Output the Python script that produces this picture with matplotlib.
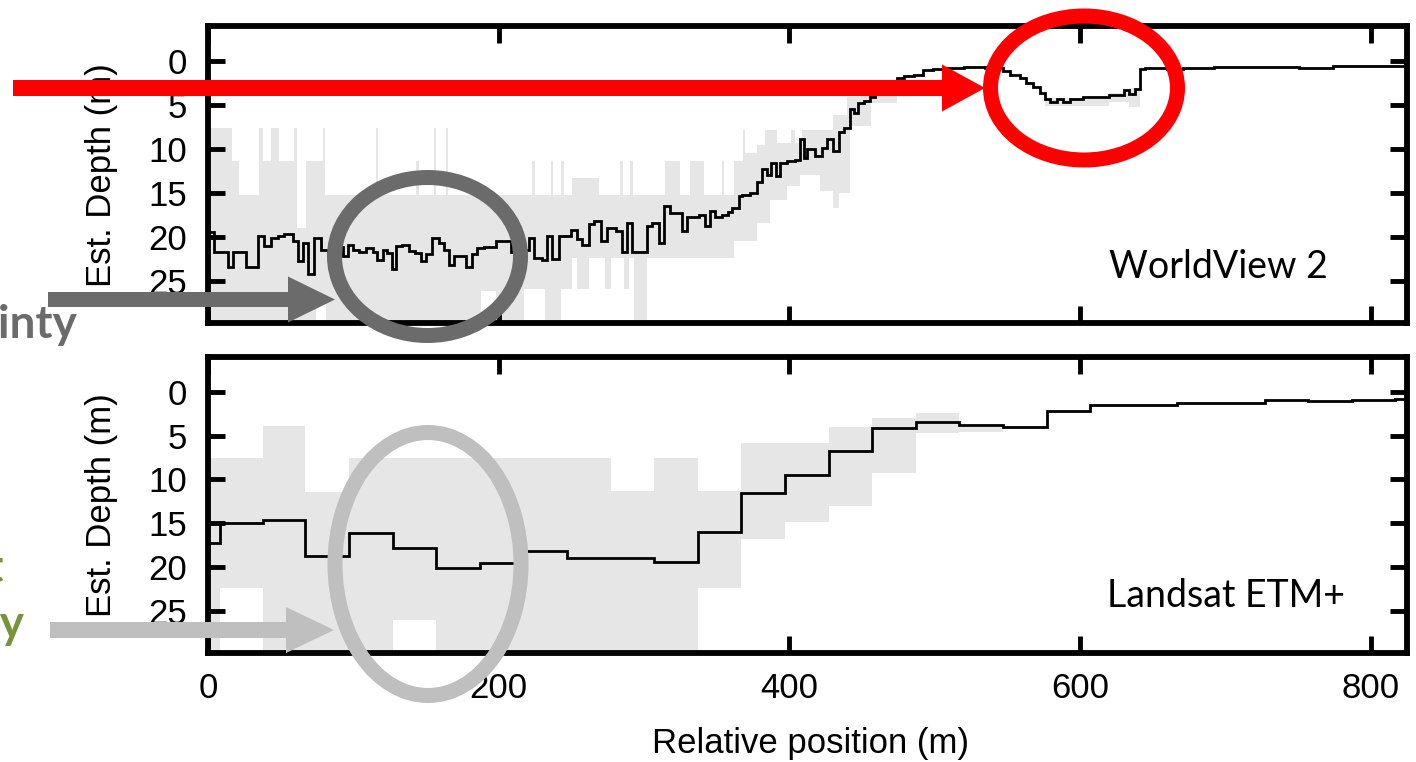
import numpy as np
import matplotlib
matplotlib.use("Agg")
import matplotlib.pyplot as plt
from matplotlib.patches import Ellipse, FancyArrow

plt.rcParams['font.family'] = ['Liberation Sans', 'DejaVu Sans']

# ---------------- data ----------------
# WorldView 2 estimated depth (step function: left edges in m, depth in m)
wv2_edges = [0, 4, 13.5, 17, 26.1, 34.1, 38.7, 43.3, 47.9, 52.4, 58.2, 61.6, 65.1, 68.5, 73.1,
             77.7, 82.3, 87, 92.6, 96, 99.5, 104, 108.6, 113.2, 116.6, 120.1, 123.5, 126.5, 129.7,
             133.8, 138.4, 142.5, 146.4, 149.8, 154.4, 159, 162.4, 165.8, 169.3, 177.3, 181.9,
             185.4, 189.9, 197.9, 208.2, 210.5, 215, 220.8, 224.3, 230, 233.5, 236.9, 241.4,
             249.5, 254, 257.5, 262.1, 265.5, 270.1, 274.7, 280.4, 285, 288.4, 291.9, 302.2,
             305.6, 310.2, 314.1, 318.2, 326.2, 329.7, 337.7, 342.3, 345.7, 349.1, 353.7, 357.5,
             360.6, 365.2, 367.5, 373.2, 377.8, 381.2, 384.7, 387.4, 391.1, 393.8, 398.4, 404.1,
             407.6, 409.8, 412.1, 417.8, 422.5, 425.9, 430.4, 433.9, 437.3, 441.9, 444.2, 447.6,
             451.1, 455.7, 459.1, 466, 474, 479, 486, 492, 499, 506, 520, 535, 547, 552, 559,
             563, 568, 572.5, 576, 579.5, 584, 588.5, 593, 602, 620, 630, 634, 638, 641, 645,
             660, 671, 692, 751, 774, 825]
wv2_depth = [19.5, 21.8, 23.5, 21.8, 23.4, 19.9, 21.1, 20.1, 19.9, 19.7, 20.5, 22.8, 20.7, 24.3,
             20.1, 21.5, 22.0, 21.2, 22.2, 20.9, 21.5, 21.8, 21.3, 21.8, 22.6, 21.5, 21.9, 23.7,
             21.1, 21.0, 21.6, 21.9, 22.8, 22.0, 20.1, 20.7, 21.5, 23.2, 22.2, 23.4, 22.0, 21.3,
             21.2, 20.5, 21.8, 22.2, 21.5, 20.1, 22.4, 22.6, 19.9, 22.5, 19.9, 19.2, 20.3, 20.9,
             18.6, 18.2, 20.5, 19.0, 19.4, 21.7, 18.4, 21.7, 18.8, 18.4, 20.7, 16.5, 17.3, 19.4,
             17.8, 17.5, 18.8, 17.1, 17.8, 17.5, 17.2, 16.7, 15.4, 15.2, 15.0, 13.8, 12.3, 12.9,
             11.6, 13.1, 11.6, 11.4, 11.2, 8.9, 11.0, 10.0, 10.8, 9.9, 8.9, 10.2, 8.0, 7.6, 5.4,
             5.9, 4.7, 4.5, 4.0, 3.0, 2.4, 1.9, 1.7, 1.5, 1.0, 0.9, 0.75, 0.65, 0.8, 1.1, 1.5,
             1.9, 2.4, 2.9, 3.6, 4.3, 4.6, 4.3, 4.6, 4.3, 4.0, 3.8, 3.3, 3.7, 3.1, 0.9, 0.7,
             0.9, 0.75, 0.6, 0.8, 0.5]

# WorldView 2 uncertainty band: shallow bound and deep bound (left edges, depth; nan = none)
wv2_up_edges = [0, 16.5, 21, 35, 37.6, 43.3, 48.6, 59.3, 61, 67.4, 78.8, 80.6, 115.5, 117.3,
                143, 145, 155.5, 157, 163.6, 165.4, 223, 225, 235.7, 237.6, 242.6, 244.9,
                250.6, 268.9, 283.8, 285.7, 290.7, 292.6, 314.8, 325.1, 331.5, 341.1, 353.7,
                355.3, 361.7, 368.2, 369.8, 377.8, 383.5, 391.5, 401, 404, 408.7, 430.4,
                439.6, 448.8, 456, 474, 576, 620, 634, 641, 825]
wv2_up_depth = [7.6, 11.4, 15.2, 7.6, 11.4, 7.6, 11.4, 7.6, 19.0, 11.4, 7.6, 15.2, 7.6, 15.2,
                11.4, 15.2, 7.6, 15.2, 7.6, 15.2, 11.4, 15.2, 11.4, 15.2, 11.4, 15.2,
                13.3, 15.2, 11.4, 15.2, 11.4, 15.2, 11.4, 15.2, 11.4, 15.2, 11.4,
                15.2, 11.4, 7.8, 10.4, 9.5, 7.8, 9.3, 7.8, 9.3, 7.8, 6.1,
                4.0, 3.3, 2.6, np.nan, 4.2, 3.6, 3.0, np.nan]
wv2_lo_edges = [0, 74, 81, 187.6, 198, 217.4, 232, 242.6, 250.6, 254, 262, 273.5, 277, 286,
                289.6, 293, 302.2, 361.7, 377.8, 386.9, 398.4, 407.6, 421.3, 430.4, 433.9,
                441.9, 456, 474, 576, 620, 634, 641, 825]
wv2_lo_depth = [35, 27.0, 35, 26.2, 35, 26.0, 35, 26.0, 22.4, 26.0, 22.4, 26.0, 22.4, 26.0,
                22.4, 35, 22.4, 20.5, 18.4, 15.8, 14.2, 12.9, 14.8, 16.7, 15.0,
                7.4, 4.7, np.nan, 5.1, 4.6, 5.2, np.nan]

# Landsat ETM+ (30 m pixels)
etm_edges = [0, 8, 38, 67, 97, 127, 157, 187, 217, 247, 277, 307, 337, 367, 397, 427, 457, 487,
             517, 547, 577, 607, 637, 667, 697, 727, 757, 787, 817, 825]
etm_depth = [17.3, 15.0, 14.6, 18.8, 16.1, 17.8, 20.1, 19.5, 18.2, 19.0, 19.0, 19.4, 16.0, 11.6,
             9.5, 6.8, 4.1, 3.4, 3.8, 4.0, 2.2, 1.5, 1.5, 1.25, 1.25, 0.9, 1.0, 0.95, 0.85]
etm_upper = [7.6, 7.6, 3.9, 11.4, 7.6, 7.6, 7.6, 7.6, 7.6, 7.6, 11.3, 7.6, 11.3, 5.8, 5.8, 4.0,
             3.0, 2.4, 3.8] + [np.nan] * 10
etm_lower = [35, 22.4, 35, 35, 35, 26.1, 35, 35, 35, 35, 35, 35, 22.4, 16.8, 14.9, 13.0, 9.3,
             4.7, 4.6] + [np.nan] * 10

x_ticks = [0, 200, 400, 600, 800]
y_ticks = [0, 5, 10, 15, 20, 25]
sensor_labels = ["WorldView 2", "Landsat ETM+"]

BAND = "#e6e6e6"


def step_eval(edges, vals, xs):
    edges = np.asarray(edges, float)
    vals = np.asarray(vals, float)
    idx = np.searchsorted(edges, xs, side='right') - 1
    idx = np.clip(idx, 0, len(vals) - 1)
    return vals[idx]


def draw_band(ax, edges, up, lo):
    edges = np.asarray(edges, float)
    up = np.asarray(up, float)
    lo = np.asarray(lo, float)
    valid = ~(np.isnan(up) | np.isnan(lo))
    i = 0
    n = len(up)
    while i < n:
        if valid[i]:
            j = i
            while j < n and valid[j]:
                j += 1
            ax.stairs(up[i:j], edges[i:j + 1], baseline=lo[i:j], fill=True,
                      color=BAND, lw=0, zorder=1)
            i = j
        else:
            i += 1


fig = plt.figure(figsize=(14.16, 7.62), dpi=100)
ax1 = fig.add_axes([0.1469, 0.5755, 0.8467, 0.3898])
ax2 = fig.add_axes([0.1469, 0.1424, 0.8467, 0.3891])

# band for WV2 on the union of edges
u_edges = np.union1d(wv2_up_edges, wv2_lo_edges)
left = u_edges[:-1]
draw_band(ax1, u_edges, step_eval(wv2_up_edges, wv2_up_depth, left),
          step_eval(wv2_lo_edges, wv2_lo_depth, left))
ax1.stairs(wv2_depth, wv2_edges, baseline=None, color='black', lw=2.0, zorder=3)

draw_band(ax2, etm_edges, etm_upper, etm_lower)
ax2.stairs(etm_depth, etm_edges, baseline=None, color='black', lw=2.0, zorder=3)

for ax, lab in zip((ax1, ax2), sensor_labels):
    ax.set_xlim(0, 825)
    ax.set_ylim(29.9, -4.0)
    ax.set_xticks(x_ticks)
    ax.set_yticks(y_ticks)
    ax.tick_params(direction='in', length=12, width=3.5, top=True, right=True,
                   labelsize=25, color='black')
    ax.tick_params(axis='y', pad=15)
    ax.tick_params(axis='x', pad=13)
    for s in ax.spines.values():
        s.set_linewidth(4.2)
    ax.set_facecolor('none')
ax1.tick_params(labelbottom=False)

fig.text(1109 / 1416, 1 - 278 / 762, sensor_labels[0], fontsize=27, family=['Lato', 'DejaVu Sans'],
         ha='left', va='baseline')
fig.text(1107 / 1416, 1 - 607 / 762, sensor_labels[1], fontsize=27, family=['Lato', 'DejaVu Sans'],
         ha='left', va='baseline')

fig.text(102 / 1416, 1 - 175 / 762, "Est. Depth (m)", rotation=90, fontsize=25,
         ha='center', va='center')
fig.text(102 / 1416, 1 - 505 / 762, "Est. Depth (m)", rotation=90, fontsize=25,
         ha='center', va='center')
fig.text(810 / 1416, 1 - 743 / 762, "Relative position (m)", fontsize=25,
         ha='center', va='center')

# ---------------- annotations overlay (pixel coordinates) ----------------
ov = fig.add_axes([0, 0, 1, 1], zorder=10)
ov.set_xlim(0, 1416)
ov.set_ylim(762, 0)
ov.axis('off')
ov.patch.set_alpha(0)

RED = "#ff0000"
DGRAY = "#6b6b6b"
LGRAY = "#bfbfbf"
GREEN = "#77933c"
px = 72 / 100.0

ov.add_patch(FancyArrow(13, 88, 972, 0, width=16, head_width=47, head_length=43,
                        length_includes_head=True, color=RED, lw=0))
ov.add_patch(Ellipse((1084, 88), 187, 144, fill=False, ec=RED, lw=15 * px))

ov.add_patch(FancyArrow(48, 299.5, 287, 0, width=15, head_width=46, head_length=47,
                        length_includes_head=True, color=DGRAY, lw=0))
ov.add_patch(Ellipse((427.5, 256.5), 186, 158, fill=False, ec=DGRAY, lw=15 * px))

ov.add_patch(FancyArrow(50, 630, 284, 0, width=16, head_width=46, head_length=48,
                        length_includes_head=True, color=LGRAY, lw=0))
ov.add_patch(Ellipse((428, 564), 186, 263, fill=False, ec=LGRAY, lw=15 * px))

bold = dict(family=['Lato', 'DejaVu Sans'], fontweight='bold', fontsize=33)
ov.text(77, 338, "WV2 Uncertainty", color=DGRAY, ha='right', va='baseline', **bold)
ov.text(4, 582, "Landsat", color=GREEN, ha='right', va='baseline', **bold)
ov.text(25, 638, "Uncertainty", color=GREEN, ha='right', va='baseline', **bold)

fig.savefig("out.png", dpi=100)
